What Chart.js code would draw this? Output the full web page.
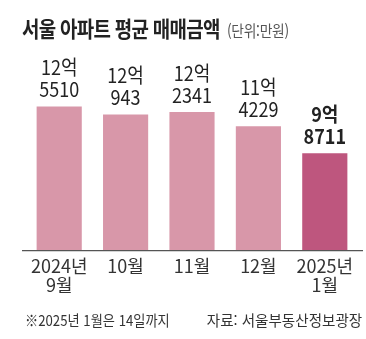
<!DOCTYPE html>
<html lang="ko">
<head>
<meta charset="utf-8">
<script src="https://cdn.jsdelivr.net/npm/chart.js@4.4.1/dist/chart.umd.min.js"></script>
<style>
  html, body { margin: 0; padding: 0; background: #fff; }
  #wrap { position: relative; width: 366px; height: 339px; overflow: hidden; font-family: "Noto Sans CJK KR", "Noto Sans", sans-serif; }
  #chart { position: absolute; left: 0; top: 0; }
  .title { position: absolute; left: 22px; top: 12px; white-space: nowrap; transform: scaleX(0.86); transform-origin: left top; color: #222; font-size: 22px; font-weight: 700; line-height: 30px; letter-spacing: -0.8px; }
  .title span { font-size: 16px; font-weight: 400; color: #555; margin-left: 3px; letter-spacing: -0.3px; }
  .note { position: absolute; left: 25px; top: 309px; white-space: nowrap; transform: scaleX(0.88); transform-origin: left top; font-size: 15px; color: #333; line-height: 22px; }
  .source { position: absolute; right: 4px; top: 309px; white-space: nowrap; transform: scaleX(0.97); transform-origin: right top; font-size: 15px; color: #333; line-height: 22px; }
</style>
</head>
<body>
<div id="wrap">
  <canvas id="chart" width="366" height="339"></canvas>
  <div class="title">서울 아파트 평균 매매금액 <span>(단위:만원)</span></div>
  <div class="note">※2025년 1월은 14일까지</div>
  <div class="source">자료: 서울부동산정보광장</div>
</div>
<script>
// Data (만원)
const months = [['2024년', '9월'], '10월', '11월', '12월', ['2025년', '1월']];
const prices = [125510, 120943, 122341, 114229, 98711];
const barColors = ['#D897A9', '#D897A9', '#D897A9', '#D897A9', '#BE567E'];
const yRange = [43400, 152000];

// Labels above the bars: "12억" / "5510"
const valueLabels = {
    id: 'valueLabels',
    afterDatasetsDraw(chart) {
        const ctx = chart.ctx;
        const meta = chart.getDatasetMeta(0);
        meta.data.forEach((bar, i) => {
            const v = prices[i];
            const eok = Math.floor(v / 10000);
            const rest = v % 10000;
            const last = i === prices.length - 1;
            ctx.save();
            ctx.translate(bar.x, bar.y);
            ctx.scale(0.9, 1);
            ctx.fillStyle = '#222';
            ctx.textAlign = 'center';
            ctx.textBaseline = 'middle';
            ctx.font = (last ? 'bold ' : '') + '20px "Noto Sans CJK KR", sans-serif';
            ctx.fillText(eok + '억', 0, -39);
            ctx.fillText(String(rest), 0, -17);
            ctx.restore();
        });
    }
};

// Baseline under the bars, a bit wider than the plot area
const baseline = {
    id: 'baseline',
    afterDatasetsDraw(chart) {
        const ctx = chart.ctx;
        const y = chart.chartArea.bottom + 0.5;
        ctx.save();
        ctx.strokeStyle = '#555';
        ctx.lineWidth = 1.2;
        ctx.beginPath();
        ctx.moveTo(22, y);
        ctx.lineTo(363, y);
        ctx.stroke();
        ctx.restore();
    }
};

new Chart(document.getElementById('chart'), {
    type: 'bar',
    data: {
        labels: months,
        datasets: [{
            data: prices,
            backgroundColor: barColors,
            borderWidth: 0,
            barPercentage: 0.68,
            categoryPercentage: 1.0
        }]
    },
    options: {
        responsive: false,
        animation: false,
        devicePixelRatio: 1,
        layout: { padding: { left: 26, right: 8, top: 60, bottom: 37 } },
        plugins: {
            legend: { display: false },
            tooltip: { enabled: false },
            title: { display: false }
        },
        scales: {
            x: {
                grid: { display: false, drawTicks: false },
                border: { display: false },
                ticks: {
                    color: '#333',
                    padding: 7,
                    maxRotation: 0,
                    autoSkip: false,
                    font: { family: '"Noto Sans CJK KR", sans-serif', size: 18, lineHeight: 1.05 }
                }
            },
            y: {
                display: false,
                min: yRange[0],
                max: yRange[1]
            }
        }
    },
    plugins: [valueLabels, baseline]
});
</script>
</body>
</html>
